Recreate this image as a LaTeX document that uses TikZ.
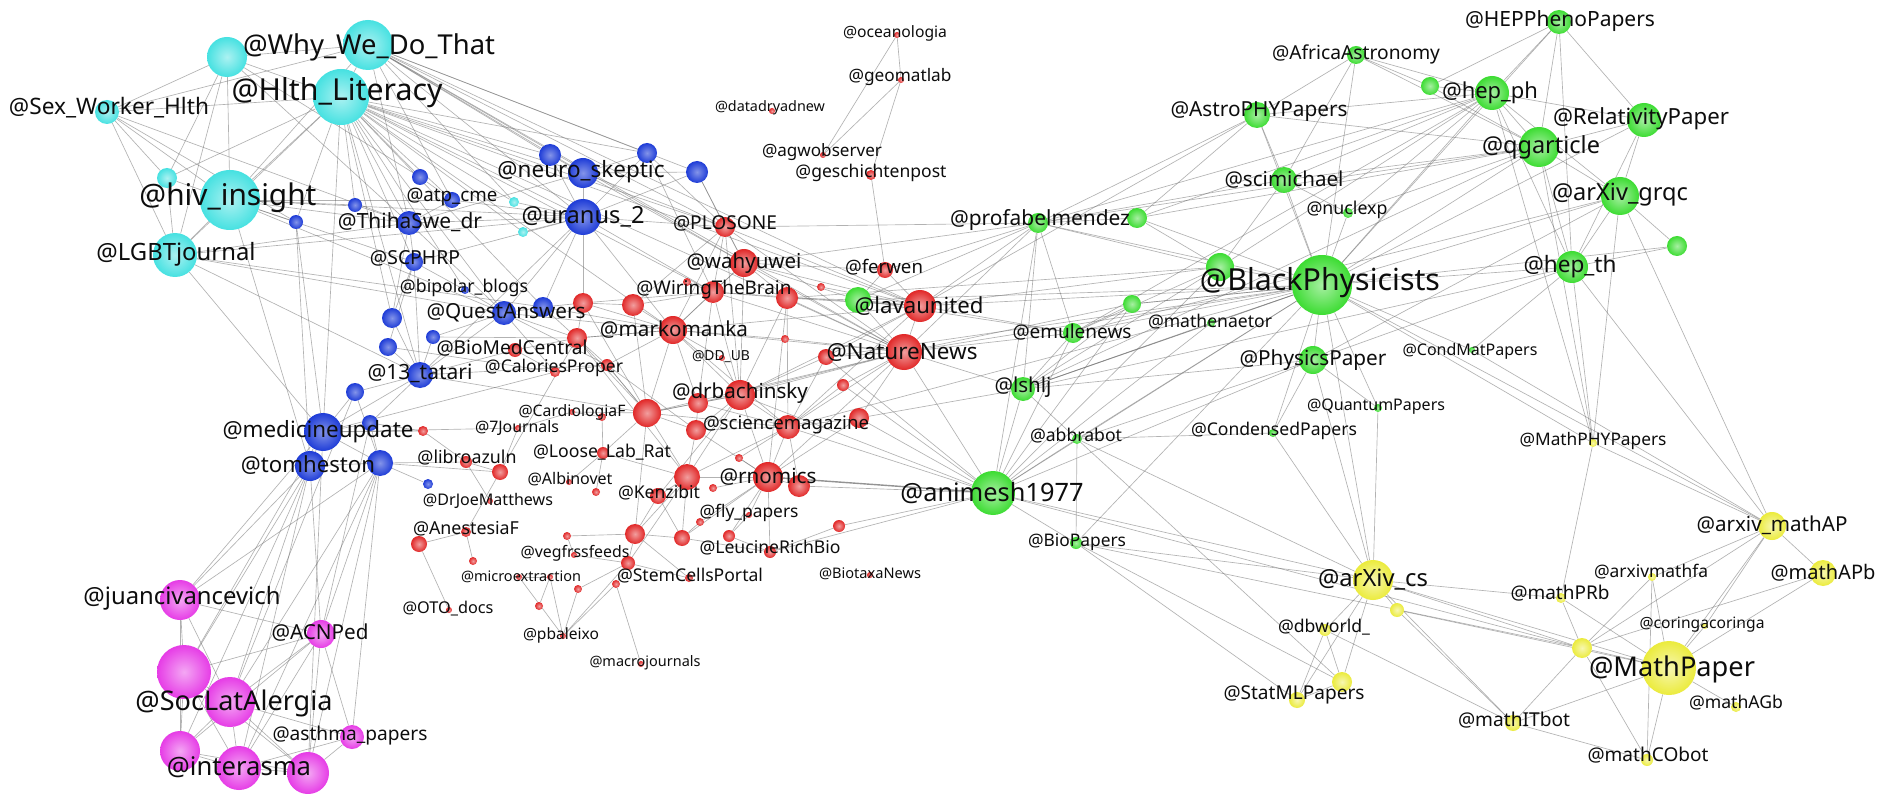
\documentclass[tikz,border=0pt]{standalone}
\usepackage{fontspec}
\setmainfont{Noto Sans}
\usepackage{graphicx}
\pgfdeclarelayer{bg}
\pgfsetlayers{bg,main}
\definecolor{cyanN}{RGB}{70,225,225}
\definecolor{blueN}{RGB}{30,60,215}
\definecolor{redN}{RGB}{225,40,40}
\definecolor{greenN}{RGB}{60,220,50}
\definecolor{yellowN}{RGB}{235,235,60}
\definecolor{magN}{RGB}{230,60,230}
\begin{document}
\begin{tikzpicture}[x=1pt,y=-1pt,
  nd/.style={circle,inner sep=0pt,draw=none},
  cyn/.style={nd,inner color=cyanN!45!white,outer color=cyanN},
  blu/.style={nd,inner color=blueN!55!white,outer color=blueN},
  rd/.style={nd,inner color=redN!45!white,outer color=redN},
  grn/.style={nd,inner color=greenN!45!white,outer color=greenN},
  ylw/.style={nd,inner color=yellowN!40!white,outer color=yellowN},
  mag/.style={nd,inner color=magN!45!white,outer color=magN},
  lbl/.style={inner sep=0pt,text=black!95},
  edge/.style={draw=black!55,line width=0.65pt,draw opacity=0.55},
  hedge/.style={draw=black!60,line width=1.4pt,draw opacity=0.7}]
\useasboundingbox (0,0) rectangle (1881,794);
% ---------- nodes ----------
\foreach \n/\x/\y/\r in {cA/227/57/20,why/368/45/25,hlth/341/97/28,sex/107/112/12,hiv/230/200/30,cB/167/178/10,lgbt/175/255/22,cC/514/202/5,cD/523/232/5}
  \node[cyn,minimum size=2*\r*1pt] (\n) at (\x,\y) {};
\foreach \n/\x/\y/\r in {b1/420/177/8,b2/355/205/7,b3/296/222/7,atp/452/200/8,thiha/409/223/12,scphrp/414/262/9,bipolar/465/290/4,quest/504/313/12,b4/543/307/10,b5/392/318/10,b6/388/347/9,b7/433/337/7,tatari/420/375/13,b8/355/392/9,neuro/583/173/15,b9/550/155/11,b10/647/153/10,b11/697/172/11,uranus/583/217/18,b12/370/423/8,medic/323/432/19,tom/310/466/15,b13/380/463/13,b14/428/484/5}
  \node[blu,minimum size=2*\r*1pt] (\n) at (\x,\y) {};
\foreach \n/\x/\y/\r in {biomed/515/350/7,r1/577/338/10,calor/555/372/5,r2/607/365/6,plos/725/227/10,r3/583/303/10,r4/633/305/11,marko/673/330/14,wiring/713/292/11,wahyu/744/263/14,r5/787/298/11,r6/821/287/4,r7/687/282/4,r8/785/339/4,ddub/722/358/3,nature/904/352/18,r9/826/357/8,r10/843/385/6,lava/920/306/16,ferwen/885/270/8,ocean/897/35/3,geomat/901/80/3,datadr/772/111/3,agwob/823/155/3,gesch/871/175/5,drbach/740/395/15,r11/698/403/10,r12/647/413/14,cardio/572/412/3,r13/602/417/4,seven/518/428/3,r14/423/431/5,libro/466/462/6,r15/500/472/8,drjoe/490/501/3,anest/466/532/5,r16/419/544/8,r17/473/561/4,loose/603/453/6,albino/569/482/3,r18/596/492/4,kenzi/658/496/8,r19/687/477/13,r20/713/488/4,rnomics/768/477/15,r21/799/486/11,science/788/427/12,r22/696/430/10,r23/859/418/10,r24/739/458/4,fly/749/515/3,r25/700/522/4,r26/839/526/6,r27/635/534/10,r28/682/538/8,r29/729/536/6,r30/567/536/4,leucine/770/552/6,vegf/574/555/3,r31/628/563/7,micro/519/577/3,r32/550/577/3,r33/578/589/4,r34/616/584/4,stem/689/578/4,oto/449/610/3,r35/539/606/4,pbal/563/636/3,macro/641/664/3,biotaxa/870/575/3}
  \node[rd,minimum size=2*\r*1pt] (\n) at (\x,\y) {};
\foreach \n/\x/\y/\r in {g1/858/300/13,profab/1038/223/10,g2/1137/218/10,emule/1073/333/10,g3/1132/304/9,mathen/1211/323/4,g4/1220/267/14,black/1322/285/30,physp/1313/360/14,lshlj/1023/389/12,abbra/1077/439/5,conden/1273/433/4,quantum/1378/408/4,condmat/1472/350/3,animesh/993/493/22,scimi/1284/180/13,nuclexp/1348/213/5,astro/1257/115/13,africa/1356/55/9,g5/1430/86/9,hepph/1492/93/17,heppheno/1559/22/12,relat/1644/120/17,qgart/1539/147/20,grqc/1620/196/19,g6/1677/246/10,hepth/1572/267/16,biopap/1076/543/6}
  \node[grn,minimum size=2*\r*1pt] (\n) at (\x,\y) {};
\foreach \n/\x/\y/\r in {mathphy/1593/443/4,mathap/1772/526/14,mathapb/1823/573/13,mathfa/1652/577/4,mathprb/1561/598/5,coring/1705/626/3,y1/1582/648/10,mathpaper/1669/668/27,mathagb/1736/707/5,mathit/1513/723/8,mathco/1647/760/6,arxivcs/1373/580/20,y2/1397/610/7,dbworld/1325/630/6,y3/1342/682/10,statml/1297/700/8}
  \node[ylw,minimum size=2*\r*1pt] (\n) at (\x,\y) {};
\foreach \n/\x/\y/\r in {juan/180/600/20,acn/321/634/14,m1/184/672/27,soclat/230/702/25,asthma/352/737/12,m2/180/751/20,inter/239/768/22,m3/308/773/21}
  \node[mag,minimum size=2*\r*1pt] (\n) at (\x,\y) {};
% ---------- edges ----------
\begin{pgfonlayer}{bg}
\fill[white] (0,0) rectangle (1881,794);
\foreach \a/\b in {cA/why,cA/hlth,cA/sex,cA/hiv,cA/lgbt,cA/cB,why/hlth,why/sex,why/hiv,sex/hlth,sex/hiv,sex/lgbt,sex/cB,hiv/hlth,hiv/lgbt,hiv/cB,lgbt/hlth,cB/hlth,lgbt/cB,hlth/cC,hlth/cD,why/cC,cA/thiha,
hlth/thiha,hlth/atp,hlth/b1,hlth/b2,hlth/b3,hlth/scphrp,hlth/neuro,hlth/uranus,hlth/quest,hlth/tatari,hlth/bipolar,hlth/b9,hlth/b10,hlth/b4,hlth/medic,hlth/plos,hlth/wiring,hlth/marko,hlth/nature,hlth/lava,hlth/b5,hiv/thiha,hiv/b3,hiv/atp,hiv/scphrp,hiv/uranus,hiv/quest,hiv/b2,lgbt/thiha,lgbt/uranus,lgbt/quest,lgbt/b4,lgbt/tatari,why/neuro,why/uranus,why/b10,why/b11,why/b9,why/plos,why/wahyu,why/lava,why/nature,why/atp,why/thiha,sex/thiha,sex/b3,cA/b1,hiv/tom,lgbt/medic,
neuro/uranus,neuro/b9,neuro/b10,neuro/b11,uranus/b10,uranus/b11,uranus/b9,uranus/thiha,uranus/atp,uranus/quest,uranus/b4,uranus/scphrp,uranus/tatari,uranus/r3,uranus/marko,uranus/wiring,uranus/plos,uranus/cC,uranus/cD,neuro/plos,neuro/thiha,neuro/wahyu,b1/atp,thiha/atp,thiha/scphrp,thiha/b5,thiha/quest,thiha/b2,scphrp/bipolar,scphrp/b5,scphrp/b6,scphrp/tatari,quest/b4,quest/bipolar,quest/tatari,quest/b7,quest/marko,quest/r1,quest/calor,tatari/b6,tatari/b5,tatari/b8,tatari/medic,tatari/b12,tatari/biomed,tatari/b7,b8/medic,b12/medic,medic/tom,medic/b13,tom/b13,b13/b12,b13/b14,b8/b13,b4/r3,b4/r1,b4/marko,medic/r14,b13/libro,medic/calor,b11/plos,b10/plos,b11/wahyu,b10/wiring,b3/medic,b3/tom,b12/r14,tatari/r2,tatari/r12,b7/r1,quest/r2,b13/r15,medic/seven,b6/calor,
tom/juan,tom/soclat,tom/m1,tom/inter,tom/acn,tom/m2,b13/juan,b13/soclat,b13/m3,b13/acn,b13/asthma,b13/inter,medic/m1,medic/juan,b8/soclat,b12/acn,medic/m3,
juan/m1,juan/soclat,juan/acn,juan/m2,m1/soclat,m1/acn,m1/m2,m1/inter,m1/m3,soclat/acn,soclat/inter,soclat/m2,soclat/m3,soclat/asthma,acn/asthma,acn/m3,acn/inter,acn/m2,asthma/m3,asthma/inter,m2/inter,m2/m3,inter/m3,
wahyu/wiring,wahyu/plos,wahyu/r5,wahyu/marko,wahyu/lava,wahyu/nature,plos/wiring,plos/marko,plos/r4,plos/nature,plos/lava,wiring/r4,wiring/marko,wiring/r5,wiring/nature,wiring/lava,wiring/drbach,wiring/r3,r3/r4,r3/marko,r3/r1,r4/marko,marko/r1,marko/r2,marko/drbach,marko/nature,marko/lava,marko/r12,marko/r11,marko/science,marko/ddub,r5/nature,r5/lava,r5/drbach,r5/science,r6/lava,r7/wiring,r8/nature,r8/marko,ddub/drbach,nature/lava,nature/drbach,nature/science,nature/rnomics,nature/r9,nature/r10,nature/r23,nature/r11,nature/r12,lava/drbach,lava/science,lava/r9,lava/g1,g1/nature,g1/wahyu,g1/r5,ferwen/lava,ferwen/gesch,ferwen/g1,ferwen/wahyu,drbach/r11,drbach/r12,drbach/science,drbach/rnomics,drbach/r22,drbach/r19,drbach/kenzi,r12/r11,r12/r22,r12/cardio,r12/loose,r12/r19,r12/r1,r12/r2,r12/science,r22/science,r22/rnomics,r22/r19,science/rnomics,science/r21,science/r23,science/r19,science/r24,r19/rnomics,r19/kenzi,r19/r27,r19/r28,r19/r31,r19/loose,rnomics/r21,rnomics/r20,rnomics/r28,rnomics/fly,rnomics/r25,rnomics/r29,rnomics/leucine,kenzi/r27,kenzi/r28,r27/r31,r27/r28,r27/stem,r31/stem,r31/r34,r31/r33,r31/pbal,leucine/r28,leucine/r29,leucine/r26,fly/r29,r25/r28,loose/r13,loose/albino,loose/r18,r15/libro,r15/seven,r15/r1,libro/r14,libro/drjoe,anest/r16,anest/r17,anest/r15,micro/r32,r32/pbal,r33/pbal,micro/pbal,r34/pbal,vegf/r30,vegf/r31,r30/r27,oto/r16,macro/r34,r35/r32,biomed/r1,biomed/calor,calor/r2,r1/r2,cardio/r13,seven/cardio,r2/r12,r12/r27,r22/r11,r11/science,r1/marko,r9/science,r10/science,r23/rnomics,r24/rnomics,ocean/geomat,ocean/agwob,geomat/agwob,geomat/gesch,r4/r12,r3/r12,r1/r19,r2/r22,wiring/r11,wahyu/drbach,plos/drbach,r5/rnomics,r9/drbach,
nature/animesh,nature/lshlj,nature/emule,nature/profab,nature/black,nature/g3,lava/profab,lava/black,lava/g4,lava/emule,lava/astro,science/animesh,drbach/animesh,r23/animesh,r21/animesh,r9/animesh,r10/animesh,leucine/animesh,r26/animesh,g1/profab,g1/emule,g1/black,r9/black,wahyu/profab,plos/profab,ferwen/profab,r23/lshlj,science/black,r5/g4,
black/physp,black/quantum,black/conden,black/condmat,black/scimi,black/astro,black/nuclexp,black/hepth,black/grqc,black/qgart,black/hepph,black/g4,black/g3,black/mathen,black/emule,black/lshlj,black/profab,black/g2,black/africa,black/abbra,black/g6,black/relat,black/heppheno,black/mathphy,physp/quantum,physp/conden,physp/lshlj,physp/abbra,physp/arxivcs,g4/scimi,g4/profab,g4/g2,g4/emule,g4/lshlj,g4/hepph,scimi/astro,scimi/africa,scimi/nuclexp,scimi/hepph,scimi/qgart,scimi/profab,astro/africa,astro/hepph,astro/qgart,astro/profab,astro/g2,africa/g5,africa/hepph,africa/qgart,g5/hepph,g5/heppheno,g5/qgart,hepph/heppheno,hepph/qgart,hepph/relat,hepph/grqc,hepph/hepth,heppheno/qgart,heppheno/hepth,heppheno/relat,qgart/relat,qgart/grqc,qgart/hepth,relat/grqc,relat/hepth,grqc/hepth,grqc/g6,hepth/g6,hepth/mathphy,grqc/mathphy,qgart/mathphy,hepph/mathphy,nuclexp/hepph,nuclexp/qgart,animesh/lshlj,animesh/abbra,animesh/biopap,animesh/emule,animesh/profab,animesh/g3,animesh/mathen,animesh/black,animesh/physp,animesh/arxivcs,animesh/g4,lshlj/emule,lshlj/abbra,lshlj/profab,lshlj/g3,lshlj/black,lshlj/mathen,lshlj/hepth,lshlj/qgart,abbra/biopap,abbra/conden,abbra/arxivcs,abbra/y3,biopap/arxivcs,biopap/statml,biopap/y3,biopap/black,biopap/y1,profab/g2,profab/emule,profab/hepph,profab/qgart,emule/g3,emule/grqc,emule/hepph,g2/hepph,g2/qgart,g3/black,condmat/hepth,quantum/arxivcs,black/arxivcs,hepth/mathap,grqc/mathap,physp/hepth,physp/grqc,conden/arxivcs,animesh/y1,black/mathap,condmat/mathap,
arxivcs/y2,arxivcs/dbworld,arxivcs/y3,arxivcs/statml,arxivcs/mathpaper,arxivcs/mathit,arxivcs/mathprb,arxivcs/y1,y2/mathpaper,y2/mathit,dbworld/y3,dbworld/statml,y3/statml,dbworld/mathit,mathpaper/y1,mathpaper/mathprb,mathpaper/mathfa,mathpaper/coring,mathpaper/mathap,mathpaper/mathapb,mathpaper/mathagb,mathpaper/mathco,mathpaper/mathit,y1/mathprb,y1/mathfa,y1/mathap,y1/mathapb,y1/mathit,y1/mathco,mathit/mathco,mathprb/mathphy,mathphy/mathap,mathap/mathapb,mathap/coring,mathap/mathfa,mathfa/mathco}
  \draw[edge] (\a) -- (\b);
\draw[hedge] (rnomics) -- (animesh);
\end{pgfonlayer}
% ---------- labels ----------
\foreach \n/\x/\y/\w/\t in {why/369/47/252/@Why\_We\_Do\_That,hlth/337/93/211/@Hlth\_Literacy,sex/109/108/200/@Sex\_Worker\_Hlth,hiv/228/198/177/@hiv\_insight,lgbt/176/254/159/@LGBTjournal,atp/452/197/91/@atp\_cme,thiha/410/222/144/@ThihaSwe\_dr,scphrp/415/258/90/@SCPHRP,bipolar/464/288/128/@bipolar\_blogs,quest/506/313/159/@QuestAnswers,biomed/512/348/151/@BioMedCentral,tatari/420/373/105/@13\_tatari,calor/554/368/138/@CaloriesProper,neuro/581/172/167/@neuro\_skeptic,uranus/583/217/123/@uranus\_2,plos/725/223/104/@PLOSONE,wahyu/744/263/115/@wahyuwei,wiring/714/290/155/@WiringTheBrain,marko/674/330/148/@markomanka,ddub/721/357/58/@DD\_UB,nature/902/352/151/@NatureNews,lava/919/306/129/@lavaunited,ferwen/884/267/78/@ferwen,ocean/895/33/104/@oceanologia,geomat/900/77/103/@geomatlab,datadr/770/108/110/@datadryadnew,agwob/822/152/120/@agwobserver,gesch/871/173/151/@geschichtenpost,profab/1040/220/180/@profabelmendez,emule/1072/332/119/@emulenews,mathen/1210/322/124/@mathenaetor,black/1320/283/240/@BlackPhysicists,physp/1313/360/147/@PhysicsPaper,lshlj/1023/387/57/@lshlj,abbra/1076/436/92/@abbrabot,conden/1274/431/166/@CondensedPapers,quantum/1376/407/138/@QuantumPapers,condmat/1470/351/135/@CondMatPapers,animesh/992/493/183/@animesh1977,scimi/1284/180/119/@scimichael,nuclexp/1347/210/81/@nuclexp,astro/1259/112/177/@AstroPHYPapers,africa/1356/54/168/@AfricaAstronomy,hepph/1490/93/96/@hep\_ph,heppheno/1560/21/190/@HEPPhenoPapers,relat/1641/119/176/@RelativityPaper,qgart/1541/147/118/@qgarticle,grqc/1620/195/136/@arXiv\_grqc,hepth/1570/267/93/@hep\_th,mathphy/1593/441/147/@MathPHYPapers,mathap/1772/525/151/@arxiv\_mathAP,mathapb/1823/573/105/@mathAPb,mathfa/1651/572/114/@arxivmathfa,mathprb/1560/593/99/@mathPRb,coring/1702/625/125/@coringacoringa,mathpaper/1672/669/166/@MathPaper,mathagb/1736/703/94/@mathAGb,mathit/1514/720/112/@mathITbot,mathco/1648/755/121/@mathCObot,arxivcs/1373/580/110/@arXiv\_cs,dbworld/1324/627/92/@dbworld\_,statml/1294/695/141/@StatMLPapers,biopap/1077/542/98/@BioPapers,drbach/740/393/136/@drbachinsky,cardio/572/412/107/@CardiologiaF,seven/517/428/84/@7Journals,medic/318/432/191/@medicineupdate,tom/308/465/134/@tomheston,libro/467/458/99/@libroazuln,drjoe/488/501/130/@DrJoeMatthews,anest/466/529/106/@AnestesiaF,loose/602/452/138/@Loose\_Lab\_Rat,albino/570/479/85/@Albinovet,kenzi/659/493/82/@Kenzibit,rnomics/768/477/97/@rnomics,science/786/425/166/@sciencemagazine,fly/749/513/99/@fly\_papers,leucine/770/548/141/@LeucineRichBio,vegf/575/553/109/@vegfrssfeeds,micro/521/577/120/@microextraction,stem/690/576/146/@StemCellsPortal,oto/448/609/91/@OTO\_docs,pbal/561/635/76/@pbaleixo,macro/645/663/111/@macrojournals,biotaxa/870/574/102/@BiotaxaNews,juan/182/598/197/@juancivancevich,acn/320/633/97/@ACNPed,soclat/234/703/197/@SocLatAlergia,asthma/350/736/155/@asthma\_papers,inter/239/767/144/@interasma}
  \node[lbl] (lab\n) at (\x,\y) {\resizebox{\w pt}{!}{\t}};
\end{tikzpicture}
\end{document}
